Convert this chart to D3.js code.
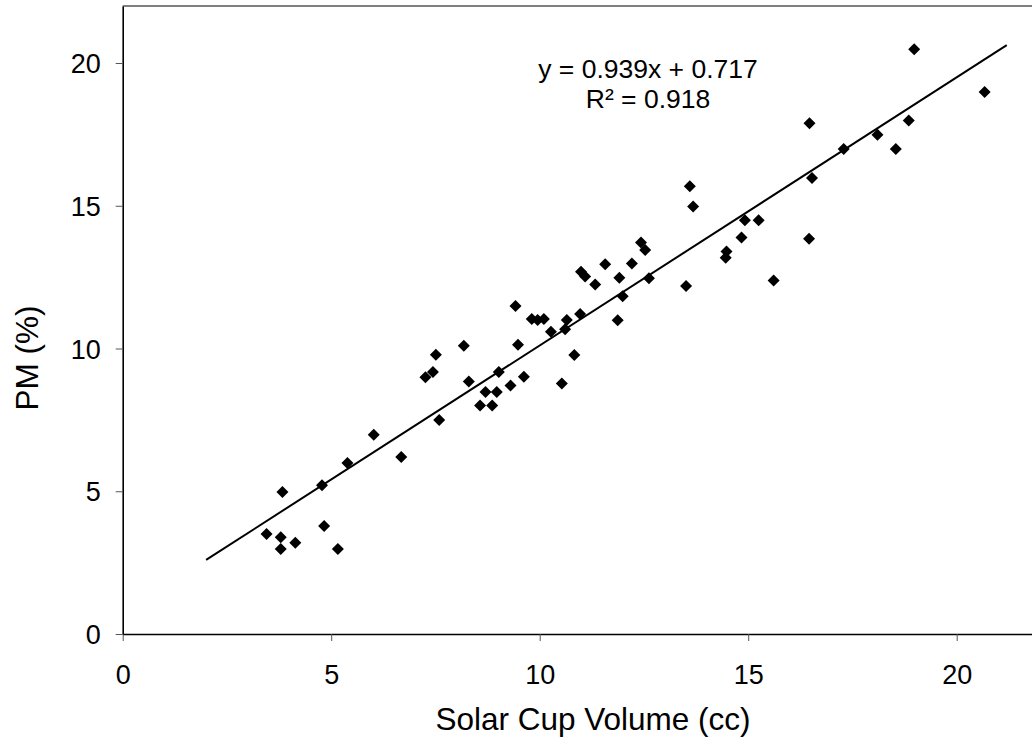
<!DOCTYPE html>
<html>
<head>
<meta charset="utf-8">
<script src="https://cdn.jsdelivr.net/npm/d3@7"></script>
<style>
  html, body { margin: 0; padding: 0; background: #fff; }
  svg { display: block; font-family: "Liberation Sans", Arial, sans-serif; }
</style>
</head>
<body>
<svg id="chart" width="1032" height="746"></svg>
<script>
// Solar cup volume (cc) against PM (%) for each sample
const solarCup = [3.45, 3.79, 3.79, 3.83, 4.14, 4.78, 4.83, 5.16, 5.39, 6.02, 6.68, 7.26, 7.44, 7.51, 7.59,
  8.18, 8.30, 8.57, 8.70, 8.86, 8.97, 9.02, 9.30, 9.42, 9.48, 9.62, 9.81, 9.95, 10.10, 10.27,
  10.53, 10.61, 10.65, 10.83, 10.97, 10.99, 11.09, 11.33, 11.57, 11.87, 11.91, 11.99, 12.21, 12.43,
  12.53, 12.62, 13.51, 13.60, 13.68, 14.46, 14.48, 14.84, 14.92, 15.25, 15.61, 16.46, 16.47, 16.53,
  17.29, 18.10, 18.54, 18.85, 18.98, 20.67];
const pmPercent = [3.50, 3.39, 2.98, 4.97, 3.20, 5.21, 3.78, 2.98, 5.99, 6.98, 6.20, 8.99, 9.18, 9.78, 7.50,
  10.10, 8.84, 8.00, 8.48, 8.00, 8.48, 9.18, 8.70, 11.49, 10.13, 9.01, 11.03, 11.00, 11.03, 10.59,
  8.77, 10.67, 11.00, 9.77, 11.21, 12.69, 12.52, 12.24, 12.95, 10.99, 12.48, 11.83, 12.98, 13.71,
  13.45, 12.46, 12.19, 15.68, 14.97, 13.18, 13.40, 13.89, 14.49, 14.49, 12.38, 13.84, 17.89, 15.97,
  16.99, 17.49, 16.99, 17.99, 20.48, 18.98];

// Linear trendline and its fit statistics
const slope = 0.939;
const intercept = 0.717;
const rSquared = 0.918;
const trendRange = [2, 21.2];

const xTicks = [0, 5, 10, 15, 20];
const yTicks = [0, 5, 10, 15, 20];
const xTitle = "Solar Cup Volume (cc)";
const yTitle = "PM (%)";

const svg = d3.select("#chart");
const plot = { left: 122.7, top: 5.9, bottom: 634 };

const x = d3.scaleLinear().domain([0, 22]).range([plot.left, plot.left + 22 * 41.7]);
const y = d3.scaleLinear().domain([0, 22]).range([plot.bottom, plot.top]);

// plot area frame (top edge; right edge falls past the canvas)
svg.append("line")
  .attr("x1", x(0)).attr("x2", x(22))
  .attr("y1", y(22)).attr("y2", y(22))
  .attr("stroke", "#808080").attr("stroke-width", 2);

// axes
const xAxis = svg.append("g")
  .attr("transform", `translate(0,${plot.bottom})`)
  .call(d3.axisBottom(x).tickValues(xTicks).tickSize(7).tickSizeOuter(0).tickPadding(24));
const yAxis = svg.append("g")
  .attr("transform", `translate(${plot.left},0)`)
  .call(d3.axisLeft(y).tickValues(yTicks).tickSize(7).tickSizeOuter(0).tickPadding(15));

[xAxis, yAxis].forEach(g => {
  g.select(".domain").attr("stroke", "#000").attr("stroke-width", 1.6);
  g.selectAll(".tick line").attr("stroke", "#555").attr("stroke-width", 1);
  g.selectAll(".tick text").attr("fill", "#000").attr("font-size", 27)
    .attr("font-family", "'Liberation Sans', Arial, sans-serif");
});
xAxis.selectAll(".tick text").attr("dy", "0.72em");
yAxis.selectAll(".tick text").attr("dy", "0.36em");

// axis titles
svg.append("text")
  .attr("x", 593).attr("y", 730)
  .attr("text-anchor", "middle").attr("font-size", 31.5).attr("fill", "#000")
  .text(xTitle);
svg.append("text")
  .attr("transform", `translate(37.5,358) rotate(-90)`)
  .attr("text-anchor", "middle").attr("font-size", 31.5).attr("fill", "#000")
  .text(yTitle);

// trendline
svg.append("line")
  .attr("x1", x(trendRange[0])).attr("y1", y(slope * trendRange[0] + intercept))
  .attr("x2", x(trendRange[1])).attr("y2", y(slope * trendRange[1] + intercept))
  .attr("stroke", "#000").attr("stroke-width", 2);

// sample markers (diamonds)
const points = solarCup.map((v, i) => ({ x: v, y: pmPercent[i] }));
const r = 6;
svg.append("g").selectAll("path")
  .data(points)
  .join("path")
  .attr("transform", d => `translate(${x(d.x)},${y(d.y)})`)
  .attr("d", `M0,${-r}L${r},0L0,${r}L${-r},0Z`)
  .attr("fill", "#000");

// fit equation
const eq = svg.append("text")
  .attr("text-anchor", "middle").attr("font-size", 26.5).attr("fill", "#000");
eq.append("tspan").attr("x", 648).attr("y", 78)
  .text(`y = ${slope}x + ${intercept}`);
eq.append("tspan").attr("x", 648).attr("y", 108)
  .text(`R² = ${rSquared}`);
</script>
</body>
</html>
